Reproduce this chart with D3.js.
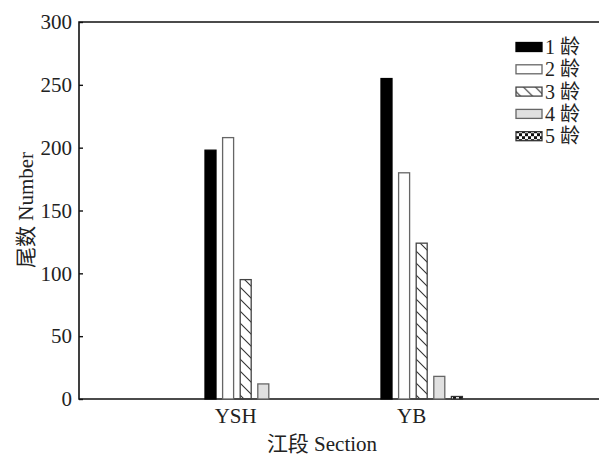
<!DOCTYPE html>
<html>
<head>
<meta charset="utf-8">
<script src="https://cdn.jsdelivr.net/npm/d3@7"></script>
<style>
  body { margin: 0; background: #fff; }
  text { font-family: "Liberation Serif", "Noto Sans CJK SC", serif; fill: #222; }
</style>
</head>
<body>
<div id="chart"></div>
<script>
// Daten
let sections = ["YSH", "YB"];
let ages = ["1 龄", "2 龄", "3 龄", "4 龄", "5 龄"];
let ysh = [198, 208, 95, 12, 0];
let yb = [255, 180, 124, 18, 2];
let yTicks = [0, 50, 100, 150, 200, 250, 300];

let values = [ysh, yb];

let width = 599,
  height = 456;

let svg = d3.select("#chart")
  .append("svg")
  .attr("width", width)
  .attr("height", height);

// Muster
let defs = svg.append("defs");
let hatch = defs.append("pattern")
  .attr("id", "hatch")
  .attr("patternUnits", "userSpaceOnUse")
  .attr("width", 12)
  .attr("height", 12);
hatch.append("path")
  .attr("d", "M-3,-3 L15,15 M-3,9 L3,15 M9,-3 L15,3")
  .attr("stroke", "#333")
  .attr("stroke-width", 1.1);

let checker = defs.append("pattern")
  .attr("id", "checker")
  .attr("patternUnits", "userSpaceOnUse")
  .attr("width", 6)
  .attr("height", 6);
checker.append("rect").attr("width", 6).attr("height", 6).attr("fill", "#fff");
checker.append("rect").attr("width", 3).attr("height", 3).attr("fill", "#111");
checker.append("rect").attr("x", 3).attr("y", 3).attr("width", 3).attr("height", 3).attr("fill", "#111");

let fills = ["#000", "#fff", "url(#hatch)", "#e0e0e0", "url(#checker)"];
let strokes = ["#000", "#666", "#444", "#666", "#333"];

let plotLeft = 79, plotTop = 22, plotBottom = 399;

let y = d3.scaleLinear()
  .domain([0, 300])
  .range([plotBottom, plotTop]);

let x0 = d3.scaleBand()
  .domain(sections)
  .range([205, 462.4])
  .paddingInner(1 - 81.4 / 176);

let x1 = d3.scaleBand()
  .domain(ages)
  .range([0, x0.bandwidth()])
  .paddingInner(0.375);

// Rahmen (rechts abgeschnitten)
svg.append("path")
  .attr("d", "M" + (width + 5) + "," + plotTop + " H" + plotLeft + " V" + plotBottom + " H" + (width + 5))
  .attr("fill", "none")
  .attr("stroke", "#111")
  .attr("stroke-width", 1.6);

// y-Achse
let yAxis = d3.axisLeft(y)
  .tickValues(yTicks)
  .tickSizeInner(-4)
  .tickSizeOuter(0)
  .tickPadding(7);

let gy = svg.append("g")
  .attr("transform", "translate(" + plotLeft + ",0)")
  .call(yAxis);
gy.select(".domain").remove();
gy.selectAll("line").attr("stroke", "#111").attr("stroke-width", 1.4);
gy.selectAll("text")
  .style("font-size", "21px")
  .style("font-family", "Liberation Serif, serif")
  .attr("fill", "#222");

// Balken
let groups = svg.selectAll("g.section")
  .data(sections)
  .enter()
  .append("g")
  .attr("class", "section")
  .attr("transform", function(d) {
    return "translate(" + x0(d) + ",0)";
  });

groups.selectAll("rect")
  .data(function(d, i) {
    return ages.map(function(a, j) {
      return { age: a, idx: j, value: values[i][j] };
    }).filter(function(e) { return e.value > 0; });
  })
  .enter()
  .append("rect")
  .attr("x", function(d) { return x1(d.age); })
  .attr("y", function(d) { return y(d.value); })
  .attr("width", x1.bandwidth())
  .attr("height", function(d) { return plotBottom - y(d.value); })
  .attr("fill", function(d) { return fills[d.idx]; })
  .attr("stroke", function(d) { return strokes[d.idx]; })
  .attr("stroke-width", 1.3);

// Kategorien
svg.selectAll("text.cat")
  .data(sections)
  .enter()
  .append("text")
  .attr("class", "cat")
  .attr("x", function(d) { return x0(d) + x0.bandwidth() / 2 - 10; })
  .attr("y", 423)
  .attr("text-anchor", "middle")
  .style("font-size", "21px")
  .text(function(d) { return d; });

// Achsentitel
svg.append("text")
  .attr("x", 322)
  .attr("y", 451)
  .attr("text-anchor", "middle")
  .style("font-size", "21px")
  .text("江段 Section");

svg.append("text")
  .attr("transform", "translate(33,210) rotate(-90)")
  .attr("text-anchor", "middle")
  .style("font-size", "21px")
  .text("尾数 Number");

// Legende
let legend = svg.selectAll("g.legend")
  .data(ages)
  .enter()
  .append("g")
  .attr("class", "legend")
  .attr("transform", function(d, i) {
    return "translate(516," + (47 + i * 22.3) + ")";
  });

legend.append("rect")
  .attr("x", 0)
  .attr("y", -4.5)
  .attr("width", 26)
  .attr("height", 9)
  .attr("fill", function(d, i) { return fills[i]; })
  .attr("stroke", function(d, i) { return strokes[i]; })
  .attr("stroke-width", 1.3);

legend.append("text")
  .attr("x", 29)
  .attr("y", 7)
  .style("font-size", "20px")
  .text(function(d) { return d; });
</script>
</body>
</html>
